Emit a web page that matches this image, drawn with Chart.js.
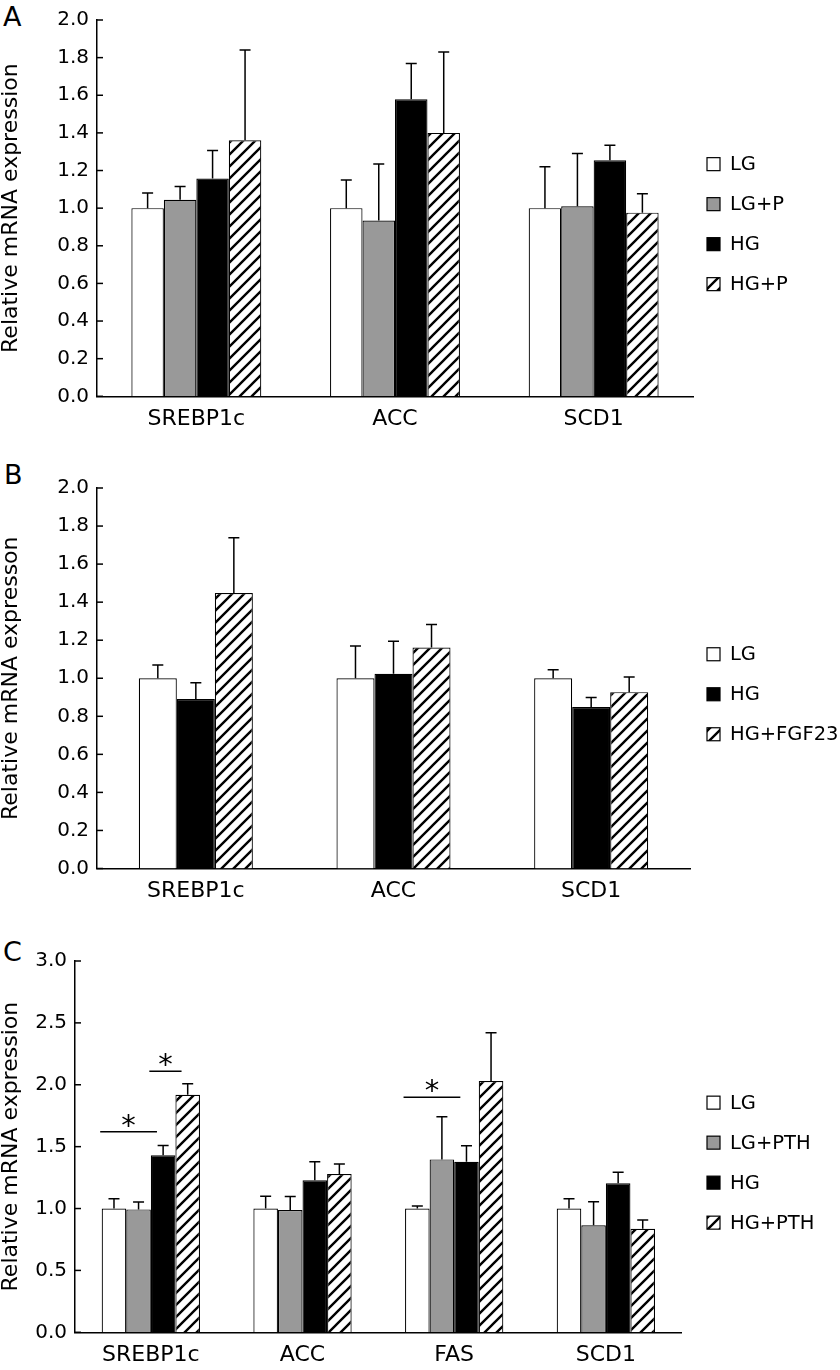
<!DOCTYPE html>
<html>
<head>
<meta charset="utf-8">
<script src="https://cdn.jsdelivr.net/npm/chart.js@4.4.1/dist/chart.umd.min.js"></script>
<style>
  body { margin: 0; background: #fff; width: 840px; height: 1370px; position: relative; overflow: hidden; font-family: "DejaVu Sans", sans-serif; }
  canvas { position: absolute; left: 0; }
  .letter { position: absolute; font-size: 27px; line-height: 1; color: #000; }
</style>
</head>
<body>
<div class="letter" style="left:3px;top:3px">A</div>
<div class="letter" style="left:4px;top:461px">B</div>
<div class="letter" style="left:3px;top:938px">C</div>
<canvas id="chartA" width="840" height="430" style="top:0"></canvas>
<canvas id="chartB" width="840" height="475" style="top:430px"></canvas>
<canvas id="chartC" width="840" height="465" style="top:905px"></canvas>
<script>
// ---- Panel A ----
const catsA = ['SREBP1c', 'ACC', 'SCD1'];
const ticksA = ['0.0', '0.2', '0.4', '0.6', '0.8', '1.0', '1.2', '1.4', '1.6', '1.8', '2.0'];
const lgA = [1.00, 1.00, 1.00];
const lgErrA = [0.08, 0.15, 0.22];
const lgpA = [1.045, 0.934, 1.01];
const lgpErrA = [0.07, 0.30, 0.28];
const hgA = [1.157, 1.579, 1.254];
const hgErrA = [0.15, 0.19, 0.08];
const hgpA = [1.361, 1.40, 0.976];
const hgpErrA = [0.48, 0.43, 0.10];

// ---- Panel B ----
const catsB = ['SREBP1c', 'ACC', 'SCD1'];
const ticksB = ['0.0', '0.2', '0.4', '0.6', '0.8', '1.0', '1.2', '1.4', '1.6', '1.8', '2.0'];
const lgB = [1.00, 1.00, 1.00];
const lgErrB = [0.07, 0.17, 0.045];
const hgB = [0.891, 1.024, 0.849];
const hgErrB = [0.085, 0.17, 0.05];
const fgfB = [1.448, 1.162, 0.927];
const fgfErrB = [0.29, 0.12, 0.08];

// ---- Panel C ----
const catsC = ['SREBP1c', 'ACC', 'FAS', 'SCD1'];
const ticksC = ['0.0', '0.5', '1.0', '1.5', '2.0', '2.5', '3.0'];
const lgC = [1.00, 1.00, 1.00, 1.00];
const lgErrC = [0.08, 0.10, 0.02, 0.08];
const lgpC = [0.993, 0.988, 1.397, 0.864];
const lgpErrC = [0.06, 0.11, 0.345, 0.19];
const hgC = [1.43, 1.228, 1.378, 1.204];
const hgErrC = [0.08, 0.15, 0.13, 0.09];
const hgpC = [1.919, 1.279, 2.03, 0.837];
const hgpErrC = [0.09, 0.08, 0.39, 0.07];
// significance brackets: [category, from dataset, to dataset, y value]
const sigC = [[0, 0, 2, 1.62], [0, 2, 3, 2.11], [2, 0, 2, 1.90]];

const FONT = '"DejaVu Sans", sans-serif';
const INK = '#000';

function makeHatch() {
    const c = document.createElement('canvas');
    c.width = 12; c.height = 12;
    const g = c.getContext('2d');
    g.fillStyle = '#fff';
    g.fillRect(0, 0, 12, 12);
    g.strokeStyle = '#000';
    g.lineWidth = 2.4;
    g.beginPath();
    g.moveTo(-3, 15); g.lineTo(15, -3);
    g.moveTo(-3, 3); g.lineTo(3, -3);
    g.moveTo(9, 15); g.lineTo(15, 9);
    g.stroke();
    return g.createPattern(c, 'repeat');
}
const hatch = makeHatch();

function ds(label, data, err, fill) {
    return {
        label: label, data: data, err: err,
        backgroundColor: fill, borderColor: '#000', borderWidth: 1.2,
        barPercentage: 1.0
    };
}

// error bars (upper only), cap on top
const errorBars = {
    id: 'errorBars',
    afterDatasetsDraw(chart) {
        const ctx = chart.ctx;
        const y = chart.scales.y;
        ctx.save();
        ctx.strokeStyle = '#000';
        ctx.lineWidth = 1.5;
        chart.data.datasets.forEach((d, i) => {
            chart.getDatasetMeta(i).data.forEach((bar, j) => {
                const top = y.getPixelForValue(d.data[j] + d.err[j]);
                ctx.beginPath();
                ctx.moveTo(bar.x, bar.y);
                ctx.lineTo(bar.x, top);
                ctx.moveTo(bar.x - 5.5, top);
                ctx.lineTo(bar.x + 5.5, top);
                ctx.stroke();
            });
        });
        ctx.restore();
    }
};

// inward tick marks on the y axis
const innerTicks = {
    id: 'innerTicks',
    afterDraw(chart) {
        const ctx = chart.ctx;
        const s = chart.scales.y;
        const left = chart.chartArea.left;
        ctx.save();
        ctx.strokeStyle = '#000';
        ctx.lineWidth = 1.5;
        s.ticks.forEach((t, i) => {
            const py = s.getPixelForTick(i);
            ctx.beginPath();
            ctx.moveTo(left, py);
            ctx.lineTo(left + 6, py);
            ctx.stroke();
        });
        ctx.restore();
    }
};

// legend at the right, drawn from the datasets
const sideLegend = {
    id: 'sideLegend',
    afterDraw(chart) {
        const ctx = chart.ctx;
        const a = chart.chartArea;
        const sets = chart.data.datasets;
        const gap = 40;
        const y0 = (a.top + a.bottom) / 2 + 16 - gap * (sets.length - 1) / 2;
        ctx.save();
        ctx.font = '19.5px ' + FONT;
        ctx.textBaseline = 'middle';
        sets.forEach((d, i) => {
            const cy = y0 + i * gap;
            ctx.fillStyle = d.backgroundColor;
            ctx.fillRect(707, cy - 6.5, 13, 13);
            ctx.strokeStyle = '#000';
            ctx.lineWidth = 1.2;
            ctx.strokeRect(707, cy - 6.5, 13, 13);
            ctx.fillStyle = INK;
            ctx.fillText(d.label, 730, cy + 1);
        });
        ctx.restore();
    }
};

// significance lines with asterisks
const sigMarks = {
    id: 'sigMarks',
    afterDatasetsDraw(chart, args, opts) {
        if (!opts.items) return;
        const ctx = chart.ctx;
        const y = chart.scales.y;
        ctx.save();
        ctx.strokeStyle = '#000';
        ctx.lineWidth = 1.5;
        ctx.fillStyle = INK;
        ctx.font = '29px ' + FONT;
        ctx.textAlign = 'center';
        ctx.textBaseline = 'alphabetic';
        opts.items.forEach(s => {
            const b1 = chart.getDatasetMeta(s[1]).data[s[0]];
            const b2 = chart.getDatasetMeta(s[2]).data[s[0]];
            const x1 = b1.x - b1.width / 2 - 1.5;
            const x2 = b2.x - b2.width / 2 + b2.width * 0.25;
            const py = y.getPixelForValue(s[3]);
            ctx.beginPath();
            ctx.moveTo(x1, py);
            ctx.lineTo(x2, py);
            ctx.stroke();
            ctx.fillText('*', (x1 + x2) / 2, py + 3);
        });
        ctx.restore();
    }
};

function makeChart(id, cats, sets, yMax, step, tickLabels, title, box) {
    const ctx = document.getElementById(id).getContext('2d');
    return new Chart(ctx, {
        type: 'bar',
        data: { labels: cats, datasets: sets },
        options: {
            responsive: false,
            animation: false,
            layout: { padding: { left: 0, top: box.top, right: 840 - box.right, bottom: 0 } },
            datasets: { bar: { categoryPercentage: box.catPct } },
            plugins: {
                legend: { display: false },
                tooltip: { enabled: false },
                sigMarks: { items: box.sig }
            },
            scales: {
                x: {
                    grid: { display: false, drawTicks: false },
                    border: { display: true, color: '#000', width: 1.5 },
                    ticks: { color: INK, font: { family: FONT, size: 22 }, padding: 10, maxRotation: 0 },
                    afterFit: s => { s.height = box.h - box.bottom; }
                },
                y: {
                    min: 0, max: yMax,
                    grid: { display: false, drawTicks: false },
                    border: { display: true, color: '#000', width: 1.5 },
                    ticks: {
                        stepSize: step, color: INK, padding: 8,
                        font: { family: FONT, size: 20 },
                        callback: (v, i) => tickLabels[i]
                    },
                    title: {
                        display: true, text: title, color: INK, padding: 0,
                        font: { family: FONT, size: 22, lineHeight: 1 }
                    },
                    afterFit: s => { s.width = box.left; }
                }
            }
        },
        plugins: [errorBars, innerTicks, sideLegend, sigMarks]
    });
}

makeChart('chartA', catsA, [
    ds('LG', lgA, lgErrA, '#ffffff'),
    ds('LG+P', lgpA, lgpErrA, '#999999'),
    ds('HG', hgA, hgErrA, '#000000'),
    ds('HG+P', hgpA, hgpErrA, hatch)
], 2.0, 0.2, ticksA, 'Relative mRNA expression',
    { left: 97, right: 693, top: 19, bottom: 396.3, h: 430, catPct: 0.654 });

makeChart('chartB', catsB, [
    ds('LG', lgB, lgErrB, '#ffffff'),
    ds('HG', hgB, hgErrB, '#000000'),
    ds('HG+FGF23', fgfB, fgfErrB, hatch)
], 2.0, 0.2, ticksB, 'Relative mRNA expresson',
    { left: 97, right: 690, top: 58, bottom: 438.5, h: 475, catPct: 0.577 });

makeChart('chartC', catsC, [
    ds('LG', lgC, lgErrC, '#ffffff'),
    ds('LG+PTH', lgpC, lgpErrC, '#999999'),
    ds('HG', hgC, hgErrC, '#000000'),
    ds('HG+PTH', hgpC, hgpErrC, hatch)
], 3.0, 0.5, ticksC, 'Relative mRNA expression',
    { left: 75, right: 681.7, top: 56, bottom: 427.3, h: 465, catPct: 0.648, sig: sigC });
</script>
</body>
</html>
